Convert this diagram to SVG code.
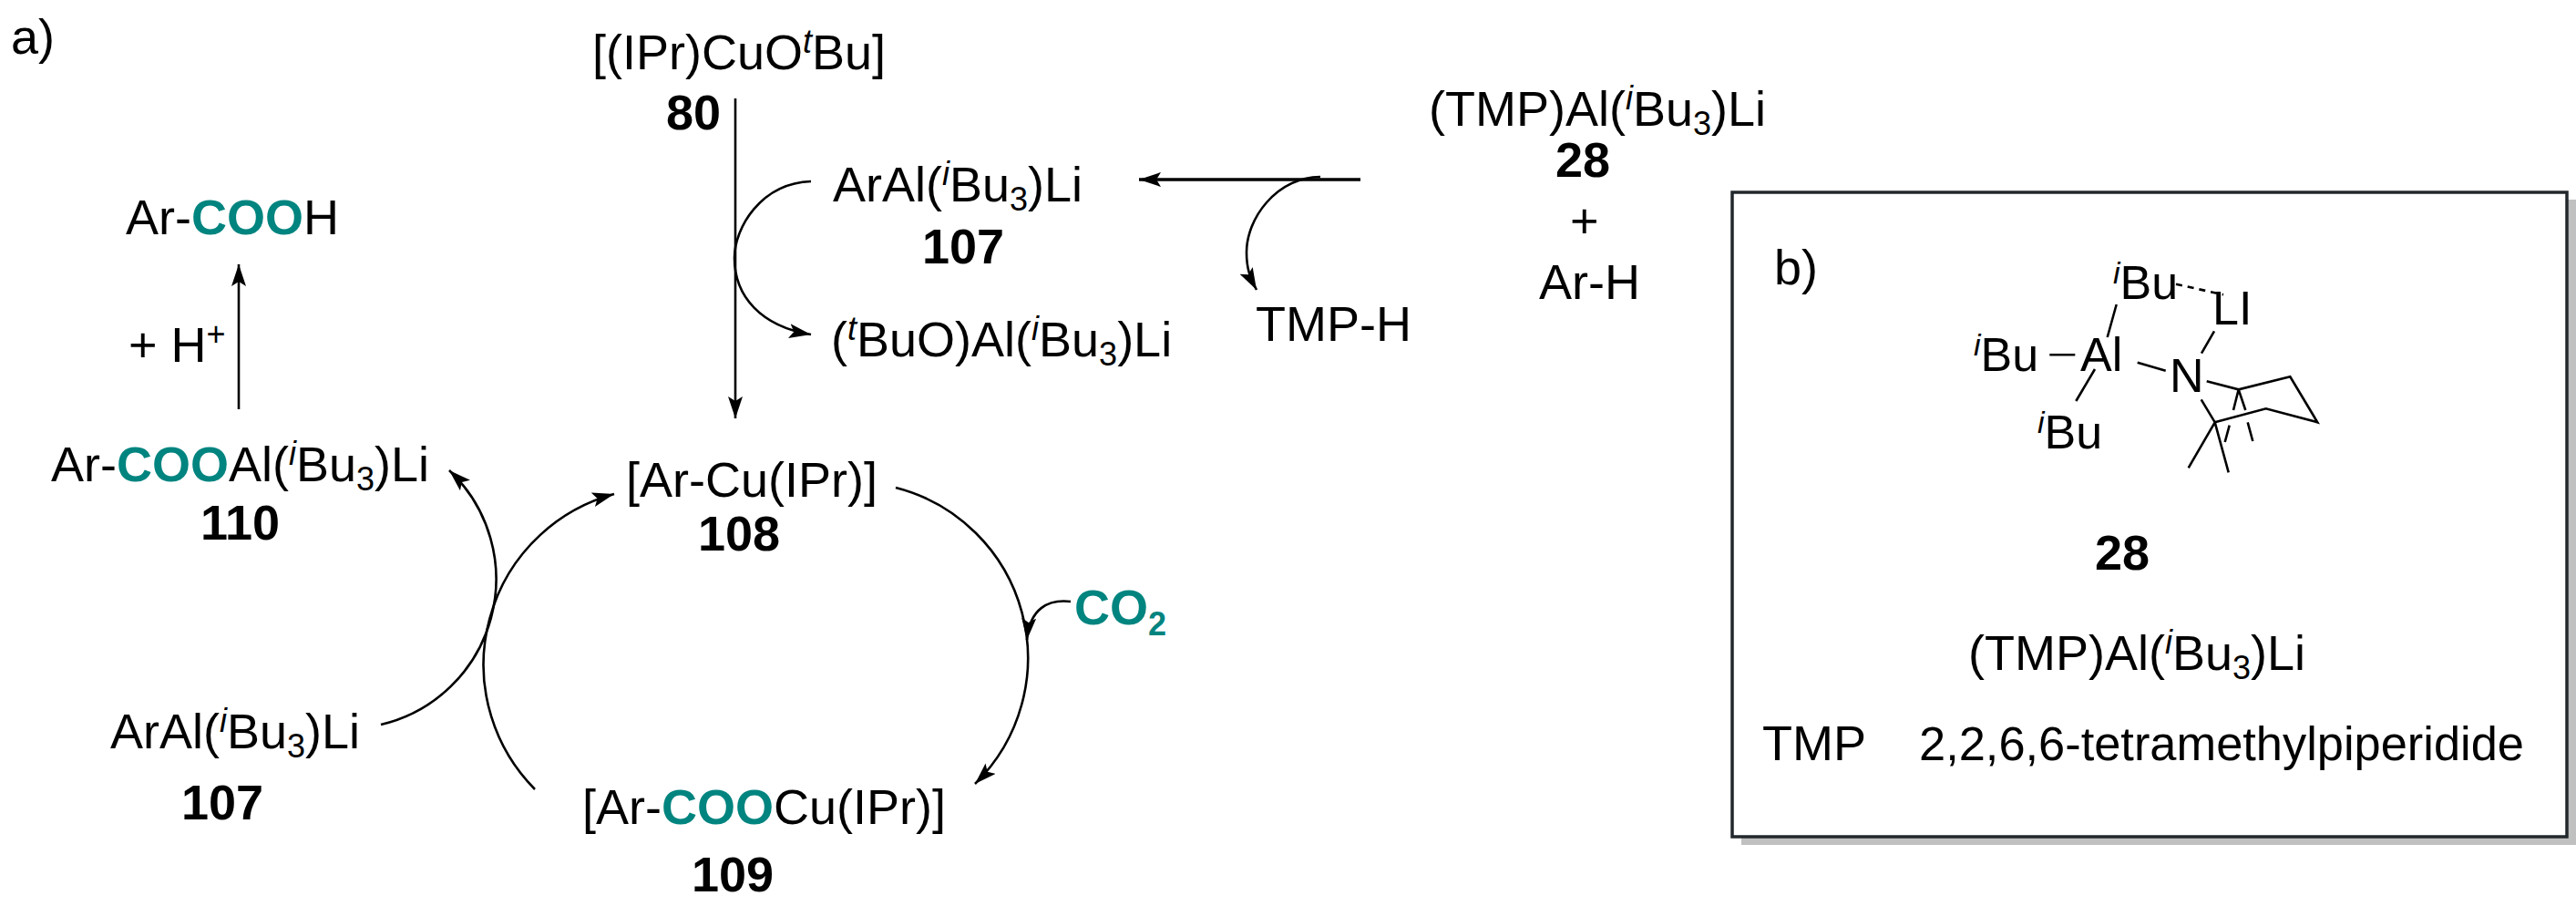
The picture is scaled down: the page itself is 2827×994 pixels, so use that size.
<svg xmlns="http://www.w3.org/2000/svg" width="2827" height="994" viewBox="0 0 2827 994">
<style>
text{font-family:"Liberation Sans",Arial,sans-serif;font-size:54px;fill:#000}
.b{font-weight:700}
.t{fill:#00847f;font-weight:700}
.i{font-style:italic}
.s{font-size:36px}
.p{font-size:52px}
.p .s{font-size:34px}
.c{fill:none;stroke:#000;stroke-width:2.6}
.h{marker-end:url(#ah)}
.m{fill:none;stroke:#000;stroke-width:2.6}
</style>
<defs>
<marker id="ah" markerUnits="userSpaceOnUse" markerWidth="26" markerHeight="18" refX="24" refY="8" orient="auto"><path d="M0 0L24 8L0 16L5 8Z" fill="#000"/></marker>
</defs>
<rect width="2827" height="994" fill="#fff"/>
<g id="connectors">
<path class="c h" d="M807 108V459"/>
<path class="c h" d="M1493 197H1250" style="stroke-width:3.5"/>
<path class="c h" d="M1449 194C1400 195 1368 240 1368 277C1368 295 1372 305 1379 318"/>
<path class="c h" d="M890 199C835 201 806 250 806 283C806 325 835 358 890 367"/>
<path class="c h" d="M262 449V290"/>
<path class="c h" d="M418 795A164 164 0 0 0 493 516"/>
<path class="c h" d="M587 866A194 194 0 0 1 674 542"/>
<path class="c h" d="M983 535A193 193 0 0 1 1070 860"/>
<path class="c h" d="M1175 660C1150 657 1130 668 1127 702"/>
</g>
<g id="label-a"><text x="12" y="59">a)</text></g>
<g id="node-80"><text x="650" y="76">[(IPr)CuO<tspan class="i s" dy="-18">t</tspan><tspan dy="18">Bu]</tspan></text><text class="b" x="731" y="142">80</text></g>
<g id="node-107-top"><text x="914" y="221">ArAl(<tspan class="i s" dy="-18">i</tspan><tspan dy="18">Bu</tspan><tspan class="s" dy="10">3</tspan><tspan dy="-10">)Li</tspan></text><text class="b" x="1012" y="289">107</text></g>
<g id="node-tbuo"><text x="912" y="391">(<tspan class="i s" dy="-18">t</tspan><tspan dy="18">BuO)Al(</tspan><tspan class="i s" dy="-18">i</tspan><tspan dy="18">Bu</tspan><tspan class="s" dy="10">3</tspan><tspan dy="-10">)Li</tspan></text></g>
<g id="node-tmph"><text x="1378" y="374">TMP-H</text></g>
<g id="node-28"><text x="1568" y="138">(TMP)Al(<tspan class="i s" dy="-18">i</tspan><tspan dy="18">Bu</tspan><tspan class="s" dy="10">3</tspan><tspan dy="-10">)Li</tspan></text><text class="b" x="1707" y="194">28</text><text x="1723" y="261">+</text><text x="1689" y="328">Ar-H</text></g>
<g id="node-acid"><text x="138" y="257">Ar-<tspan class="t">COO</tspan>H</text></g>
<g id="label-h"><text x="141" y="397">+ H<tspan class="s" dy="-18">+</tspan></text></g>
<g id="node-110"><text x="56" y="528">Ar-<tspan class="t">COO</tspan>Al(<tspan class="i s" dy="-18">i</tspan><tspan dy="18">Bu</tspan><tspan class="s" dy="10">3</tspan><tspan dy="-10">)Li</tspan></text><text class="b" x="220" y="592">110</text></g>
<g id="node-107-left"><text x="121" y="821">ArAl(<tspan class="i s" dy="-18">i</tspan><tspan dy="18">Bu</tspan><tspan class="s" dy="10">3</tspan><tspan dy="-10">)Li</tspan></text><text class="b" x="199" y="899">107</text></g>
<g id="node-108"><text x="687" y="545">[Ar-Cu(IPr)]</text><text class="b" x="766" y="604">108</text></g>
<g id="node-co2"><text class="t" x="1179" y="685">CO<tspan class="s" dy="12">2</tspan></text></g>
<g id="node-109"><text x="639" y="904">[Ar-<tspan class="t">COO</tspan>Cu(IPr)]</text><text class="b" x="759" y="978">109</text></g>
<g id="panel-b">
<rect x="1911" y="219" width="916" height="708" fill="#c0c0c0"/>
<rect x="1901" y="211" width="916" height="707" fill="#fff" stroke="#22282c" stroke-width="3.5"/>
<text x="1947" y="312">b)</text>
<g class="m">
<path d="M2322.7 334L2312.7 370M2249.3 389.3H2277.3M2299 405L2278.3 440M2345.7 397.7L2376.7 406.7M2430 363.3L2416 387.7"/>
<path d="M2388 311.7L2440 323.3" stroke-dasharray="7 6"/>
<path d="M2421.7 418.3L2456.7 427.3L2513.3 413.3L2543.3 463.3L2486.7 448.3L2430.7 463.3L2415.7 438.3"/>
<path d="M2456.7 427.3L2451 450M2446.7 466.7L2441.7 485M2456.7 427.3L2464.3 450M2466.7 463.3L2472.3 484M2430.7 463.3L2401.7 513.3M2430.7 463.3L2445.7 518.3"/>
</g>
<text class="p" x="2319" y="328"><tspan class="i s" dy="-17">i</tspan><tspan dy="17">Bu</tspan></text>
<text class="p" x="2428" y="356">LI</text>
<text class="p" x="2166" y="407"><tspan class="i s" dy="-17">i</tspan><tspan dy="17">Bu</tspan></text>
<text class="p" x="2283" y="407">Al</text>
<text class="p" x="2381" y="430">N</text>
<text class="p" x="2236" y="492"><tspan class="i s" dy="-17">i</tspan><tspan dy="17">Bu</tspan></text>
<text class="b" x="2299" y="625">28</text>
<text x="2160" y="735">(TMP)Al(<tspan class="i s" dy="-18">i</tspan><tspan dy="18">Bu</tspan><tspan class="s" dy="10">3</tspan><tspan dy="-10">)Li</tspan></text>
<text x="1934" y="834">TMP</text>
<text x="2106" y="834" style="font-size:52.4px">2,2,6,6-tetramethylpiperidide</text>
</g>
</svg>
